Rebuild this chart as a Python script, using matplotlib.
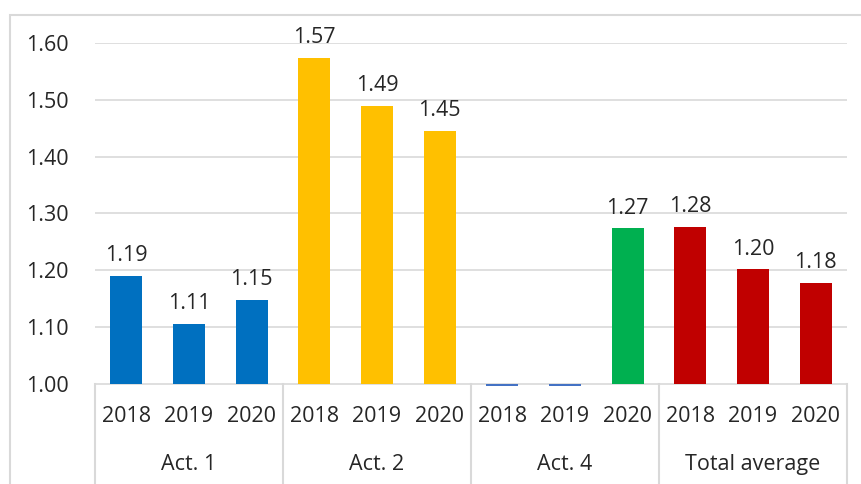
import numpy as np
from matplotlib import pyplot as plt
from matplotlib.patches import Rectangle

plt.rcParams['font.family'] = ['Open Sans', 'DejaVu Sans']

groups = ["Act. 1", "Act. 2", "Act. 4", "Total average"]
years = ["2018", "2019", "2020"]
values = [
    [1.19, 1.106, 1.148],
    [1.574, 1.489, 1.445],
    [0.0, 0.0, 1.274],
    [1.276, 1.202, 1.178],
]
labels = [
    ["1.19", "1.11", "1.15"],
    ["1.57", "1.49", "1.45"],
    ["", "", "1.27"],
    ["1.28", "1.20", "1.18"],
]
bar_colors = [
    ["#0070C0", "#0070C0", "#0070C0"],
    ["#FFC000", "#FFC000", "#FFC000"],
    ["#4472C4", "#4472C4", "#00B050"],
    ["#C00000", "#C00000", "#C00000"],
]

W, H = 861, 484
FS = 15.5
fig = plt.figure(figsize=(W / 100, H / 100), dpi=100)

# chart frame (cropped on right and bottom)
fig.patches.append(Rectangle((10 / W, -0.1), 1.2, 1 - 15 / H + 0.1,
                             transform=fig.transFigure, fill=False,
                             edgecolor="#D9D9D9", linewidth=1.5))

ymin, ymax = 0.996, 1.6
px_per_unit = (384 - 43) / 0.6
bottom_px = 384 + (1.0 - ymin) * px_per_unit
ax = fig.add_axes([95 / W, (H - bottom_px) / H, (847 - 95) / W, (bottom_px - 43) / H])

x = np.arange(12)
flat_vals = [v for g in values for v in g]
flat_cols = [c for g in bar_colors for c in g]
flat_labs = [l for g in labels for l in g]

ax.bar(x, np.array(flat_vals) - 1.0, bottom=1.0, width=0.51, color=flat_cols, zorder=3)
for xi, v, lab in zip(x, flat_vals, flat_labs):
    if lab:
        ax.text(xi, v + 0.017, lab, ha="center", va="bottom", fontsize=FS,
                color="#262626", clip_on=False)

ax.set_xlim(-0.5, 11.5)
ax.set_ylim(ymin, ymax)
ticks = [1.0, 1.1, 1.2, 1.3, 1.4, 1.5, 1.6]
ax.set_yticks(ticks)
ax.set_yticklabels(["%.2f" % t for t in ticks])
ax.tick_params(axis="y", length=0, pad=19, labelsize=FS, labelcolor="#262626")
ax.grid(axis="y", color="#D9D9D9", linewidth=1.2, zorder=0)
for s in ax.spines.values():
    s.set_visible(False)

ax.set_xticks(x)
ax.set_xticklabels(years * 4)
ax.tick_params(axis="x", length=0, pad=14, labelsize=FS, labelcolor="#262626")

# category dividers and group labels
for b in [-0.5, 2.5, 5.5, 8.5, 11.5]:
    ax.plot([b, b], [1.0, 0.75], color="#D9D9D9", linewidth=1.5, clip_on=False)
for i, g in enumerate(groups):
    ax.text(i * 3 + 1, 1.0 - 81 / px_per_unit, g, ha="center", va="center",
            fontsize=FS, color="#262626", clip_on=False)

fig.savefig("out.png", dpi=100)
